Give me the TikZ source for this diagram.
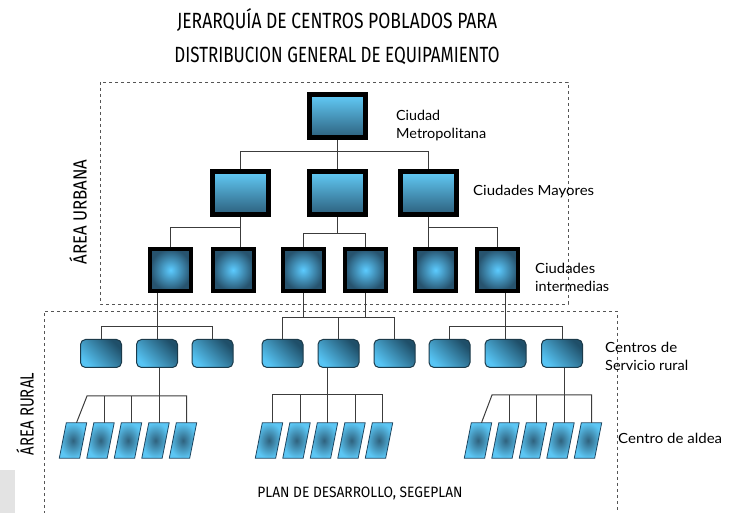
\documentclass[tikz,border=0pt]{standalone}
\usepackage{fontspec}
\usepackage{graphicx}
\usetikzlibrary{calc}
\newfontfamily\capsfont{Fira Sans}
\newfontfamily\lblfont{Lato}
\newcommand{\fitw}[2]{\resizebox{#1}{\height}{#2}}
\definecolor{bluelight}{HTML}{62CBF7}
\definecolor{bluedark}{HTML}{2C5F7C}
\definecolor{sqinner}{HTML}{5CCBFF}
\definecolor{sqouter}{HTML}{27536E}
\definecolor{rlight}{HTML}{56C4F4}
\definecolor{rdark}{HTML}{1F4F69}
\definecolor{rline}{HTML}{1B3A4A}
\definecolor{vlight}{HTML}{5BC6F4}
\definecolor{vdark}{HTML}{2F627E}
\definecolor{vline}{HTML}{1F4660}
\definecolor{connc}{HTML}{3C3C3C}
\definecolor{dashc}{HTML}{555555}
\begin{document}
\begin{tikzpicture}[x=1pt,y=-1pt,
  bigbox/.style={rectangle, draw=black, line width=5pt, minimum width=56pt, minimum height=43pt, inner sep=0pt, top color=bluelight, bottom color=bluedark},
  sqbox/.style={rectangle, draw=black, line width=4pt, minimum width=41pt, minimum height=42pt, inner sep=0pt, inner color=sqinner, outer color=sqouter},
  rurbox/.style={rectangle, rounded corners=5pt, draw=rline, line width=1pt, minimum width=41pt, minimum height=28pt, inner sep=0pt, top color=rdark, bottom color=rlight, shading angle=-45},
  vnode/.style={rectangle, minimum width=20pt, minimum height=35pt, inner sep=0pt},
  vshape/.style={draw=vline, line width=0.8pt, inner color=vdark, outer color=vlight},
  conn/.style={draw=connc, line width=1pt},
  zone/.style={draw=dashc, dashed, line width=0.8pt},
  lbl/.style={font=\lblfont\fontsize{14}{18}\selectfont, anchor=west, align=left, inner sep=0pt},
  caps/.style={font=\capsfont\fontsize{22}{22}\selectfont, inner sep=0pt}
]
\useasboundingbox (0,0) rectangle (732,513);
\fill[gray!22] (0,470) rectangle (15,513);

% titles
\node[caps] (t1) at (337,20) {\fitw{320pt}{JERARQUÍA DE CENTROS POBLADOS PARA}};
\node[caps] (t2) at (337,56) {\fitw{325pt}{DISTRIBUCION GENERAL DE EQUIPAMIENTO}};

% zones
\draw[zone] (100,82) rectangle (568,304);
\draw[zone] (44,520) |- (617,311) -- (617,520);
\node[caps, rotate=90, font=\capsfont\fontsize{19}{19}\selectfont] (au) at (78,212) {\fitw{105pt}{ÁREA URBANA}};
\node[caps, rotate=90, font=\capsfont\fontsize{19}{19}\selectfont] (ar) at (25,414) {\fitw{82pt}{ÁREA RURAL}};

% level 1 and 2
\node[bigbox] (L1) at (337.5,116.5) {};
\node[bigbox] (L2a) at (240.5,193) {};
\node[bigbox] (L2b) at (337.5,193) {};
\node[bigbox] (L2c) at (428,193) {};

% level 3
\foreach \n/\x in {a/170.5,b/233,c/303,d/365.5,e/435.5,f/497.5}
  \node[sqbox] (L3\n) at (\x,270) {};

% level 4
\foreach \n/\x in {a/101,b/157,c/212.5,d/282.5,e/338.5,f/394.5,g/449.5,h/505.5,i/562}
  \node[rurbox] (L4\n) at (\x,353.5) {};

% level 5 (parallelograms)
\foreach \g/\x in {V1/73,V2/100.5,V3/128,V4/155.5,V5/183,
                   M1/269,M2/296.5,M3/324,M4/351.5,M5/379,
                   R1/478,R2/505.5,R3/533,R4/560.5,R5/588}{
  \node[vnode] (\g) at (\x,440.5) {};
  \path[vshape] ([xshift=-3.5pt]\g.south west) -- ([xshift=-3.5pt]\g.south east)
     -- ([xshift=3.5pt]\g.north east) -- ([xshift=3.5pt]\g.north west) -- cycle;
  \coordinate (\g t) at ([xshift=3.5pt]\g.north);
}

% connectors level 1 -> 2
\draw[conn] (L1.south) -- (L2b.north);
\draw[conn] (L2a.north) |- (L2c.north |- 0,152) -- (L2c.north);

% level 2 -> 3
\draw[conn] (L2a.south) -- (L2a.south |- L3b.north);
\draw[conn] (L3a.north) |- (L2a.south |- 0,228);
\draw[conn] (L2b.south) -- (L2b.south |- 0,234);
\draw[conn] (L3c.north) |- (L3d.north |- 0,234) -- (L3d.north);
\draw[conn] (L2c.south) -- (L2c.south |- L3e.north);
\draw[conn] (L2c.south |- 0,228) -| (L3f.north);

% level 3 -> 4
\draw[conn] (L4b.north) -- (L4b.north |- L3a.south);
\draw[conn] (L4a.north) |- (L4c.north |- 0,327) -- (L4c.north);
\draw[conn] (L3c.south) -- (L3c.south |- 0,318);
\draw[conn] (L3d.south) -- (L3d.south |- 0,318);
\draw[conn] (L4d.north) |- (L4f.north |- 0,318) -- (L4f.north);
\draw[conn] (L4e.north) -- (L4e.north |- 0,318);
\draw[conn] (L4h.north) -- (L4h.north |- L3f.south);
\draw[conn] (L4g.north) |- (L4i.north |- 0,327) -- (L4i.north);

% level 4 -> 5
\coordinate (bl) at (87,396);
\draw[conn] (V1t) -- (bl) -- (bl -| V5t) -- (V5t);
\foreach \n in {2,3} \draw[conn] (V\n t) -- (V\n t |- bl);
\draw[conn] (V4t) -- (V4t |- L4b.south);

\coordinate (bm) at (0,395);
\draw[conn] (M1t) |- (M5t |- bm) -- (M5t);
\foreach \n in {2,4} \draw[conn] (M\n t) -- (M\n t |- bm);
\draw[conn] (M3t) -- (M3t |- L4e.south);

\coordinate (br) at (492,395);
\draw[conn] (R1t) -- (br) -- (br -| R5t) -- (R5t);
\foreach \n in {2,3} \draw[conn] (R\n t) -- (R\n t |- br);
\draw[conn] (R4t) -- (R4t |- L4i.south);

% labels
\node[lbl] (lm) at (396,126) {\fitw{44pt}{Ciudad}\\\fitw{90pt}{Metropolitana}};
\node[lbl] (lc) at (473,192) {\fitw{121pt}{Ciudades Mayores}};
\node[lbl] (li) at (535,277) {\fitw{60pt}{Ciudades}\\\fitw{74pt}{intermedias}};
\node[lbl] (ls) at (605,356) {\fitw{72pt}{Centros de}\\\fitw{83pt}{Servicio rural}};
\node[lbl] (la) at (618,438) {\fitw{104pt}{Centro de aldea}};
\node[caps, font=\capsfont\fontsize{15}{15}\selectfont] (pl) at (360,493) {\fitw{205pt}{PLAN DE DESARROLLO, SEGEPLAN}};
\end{tikzpicture}
\end{document}
